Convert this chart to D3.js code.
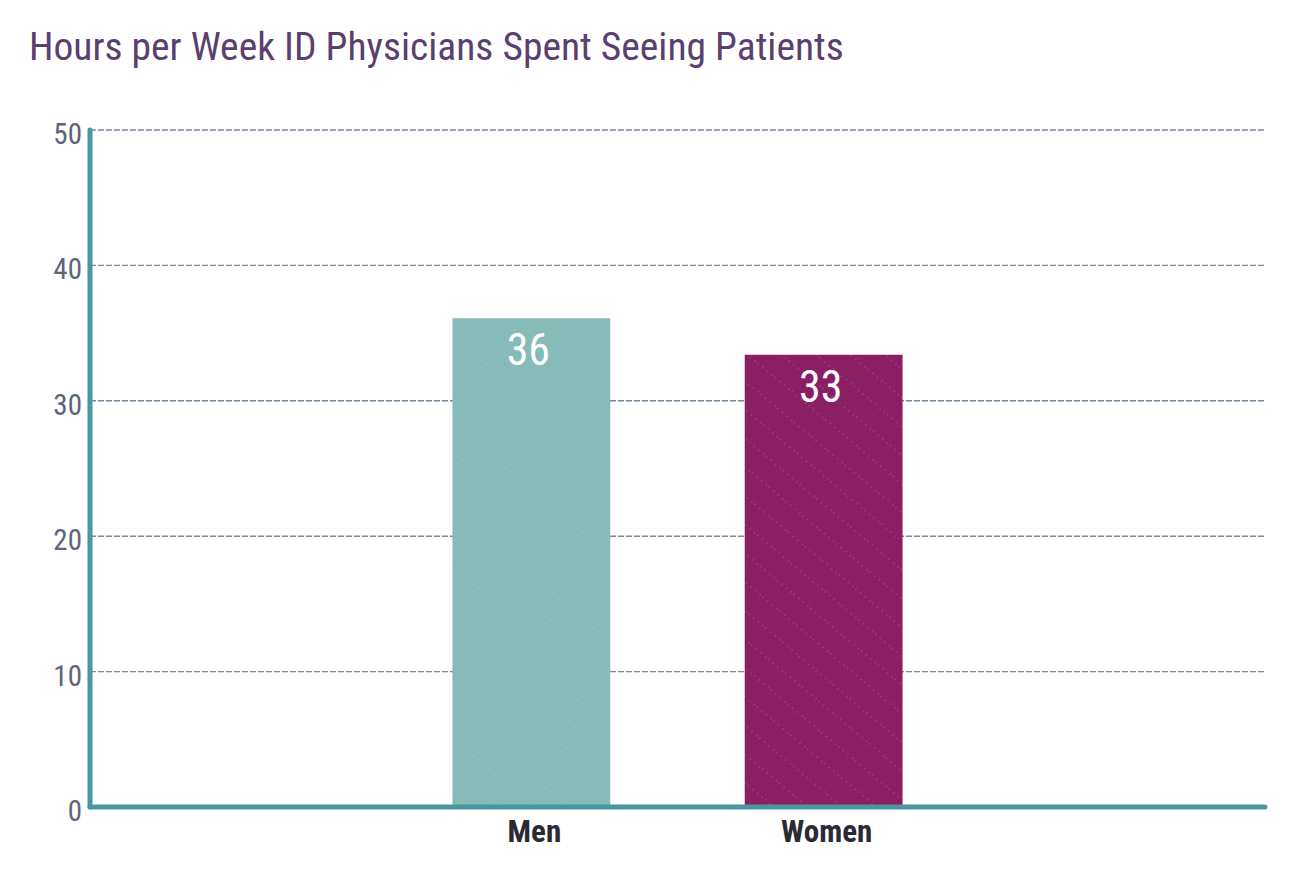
<!DOCTYPE html>
<html>
<head>
<meta charset="utf-8">
<script src="https://cdn.jsdelivr.net/npm/d3@7"></script>
<style>
  body { margin: 0; background: #fff; }
  svg { display: block; }
  text { font-family: "Roboto Condensed", Roboto, sans-serif; }
</style>
</head>
<body>
<div id="chart"></div>
<script>
// data
const categories = ["Men", "Women"];
const hours = [36.1, 33.4];
const barColors = ["#86bbb8", "#8a1f63"];
const yTicks = [0, 10, 20, 30, 40, 50];
const title = "Hours per Week ID Physicians Spent Seeing Patients";

const width = 1290, height = 878;
const margin = { top: 130, right: 25, bottom: 71, left: 90 };

const svg = d3.select("#chart").append("svg")
  .attr("width", width)
  .attr("height", height);

// faint diagonal texture on bars
const defs = svg.append("defs");
categories.forEach((c, i) => {
  const p = defs.append("pattern")
    .attr("id", "tex" + i)
    .attr("width", 22).attr("height", 22)
    .attr("patternUnits", "userSpaceOnUse")
    .attr("patternTransform", "rotate(40)");
  p.append("rect").attr("width", 22).attr("height", 22).attr("fill", barColors[i]);
  p.append("line")
    .attr("x1", 0).attr("y1", 11).attr("x2", 22).attr("y2", 11)
    .attr("stroke", "#fff").attr("stroke-opacity", i ? 0.35 : 0.25)
    .attr("stroke-width", 1).attr("stroke-dasharray", "1 5");
});

const x = d3.scaleBand()
  .domain(categories)
  .range([margin.left, width - margin.right])
  .paddingInner(0.46)
  .paddingOuter(1.24);

const y = d3.scaleLinear()
  .domain([0, 50])
  .range([height - margin.bottom, margin.top]);

// 标题
svg.append("text")
  .attr("x", 29).attr("y", 60)
  .attr("fill", "#5b3f6e")
  .attr("font-size", 39.5)
  .text(title);

// grid lines
svg.append("g")
  .selectAll("line")
  .data(yTicks.slice(1))
  .join("line")
  .attr("x1", margin.left).attr("x2", width - margin.right)
  .attr("y1", d => y(d)).attr("y2", d => y(d))
  .attr("stroke", "#74879a")
  .attr("stroke-width", 1.4)
  .attr("stroke-dasharray", "6 2");

// y tick labels
svg.append("g")
  .selectAll("text")
  .data(yTicks)
  .join("text")
  .attr("x", 82)
  .attr("y", d => y(d) + 14)
  .attr("text-anchor", "end")
  .attr("fill", "#5e6479")
  .attr("font-size", 29)
  .text(d => d);

// bars
svg.append("g")
  .selectAll("rect")
  .data(hours)
  .join("rect")
  .attr("x", (d, i) => x(categories[i]))
  .attr("width", x.bandwidth())
  .attr("y", d => y(d))
  .attr("height", d => y(0) - y(d))
  .attr("fill", (d, i) => `url(#tex${i})`);

// value labels
svg.append("g")
  .selectAll("text")
  .data(hours)
  .join("text")
  .attr("x", (d, i) => x(categories[i]) + x.bandwidth() / 2 - 3)
  .attr("y", d => y(d) + 47)
  .attr("text-anchor", "middle")
  .attr("fill", "#fff")
  .attr("font-size", 44)
  .text(d => Math.round(d));

// axes lines
svg.append("line")
  .attr("x1", margin.left).attr("x2", margin.left)
  .attr("y1", y(50)).attr("y2", y(0))
  .attr("stroke", "#4a97a0").attr("stroke-width", 5).attr("stroke-linecap", "round");
svg.append("line")
  .attr("x1", margin.left).attr("x2", width - margin.right)
  .attr("y1", y(0)).attr("y2", y(0))
  .attr("stroke", "#4a97a0").attr("stroke-width", 5).attr("stroke-linecap", "round");

// category labels
svg.append("g")
  .selectAll("text")
  .data(categories)
  .join("text")
  .attr("x", d => x(d) + x.bandwidth() / 2 + 3)
  .attr("y", y(0) + 35)
  .attr("text-anchor", "middle")
  .attr("fill", "#2a2a33")
  .attr("font-weight", "bold")
  .attr("font-size", 31)
  .text(d => d);
</script>
</body>
</html>
